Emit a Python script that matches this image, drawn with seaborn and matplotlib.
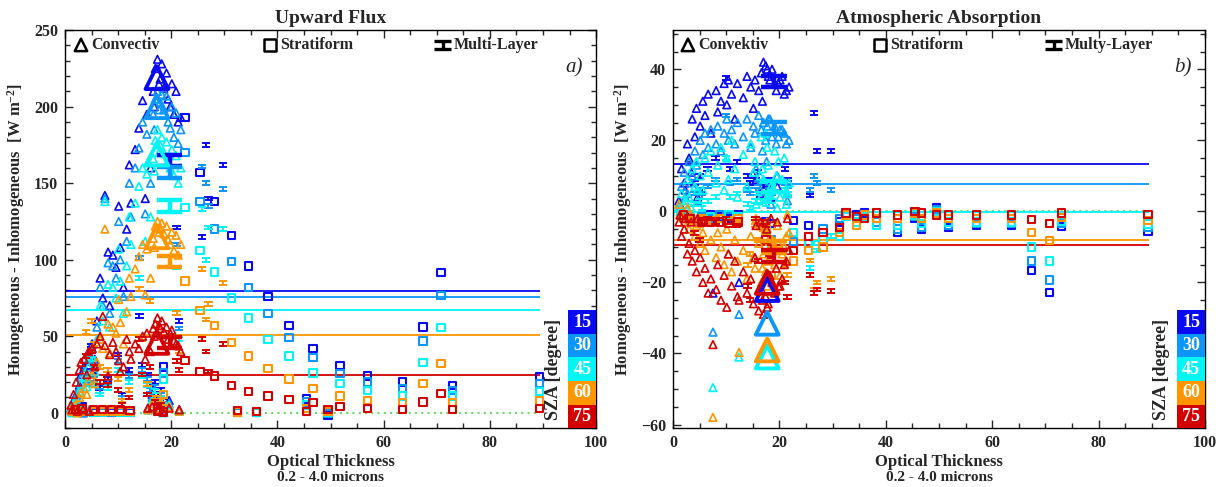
import matplotlib
matplotlib.use("Agg")
import matplotlib.pyplot as plt
from matplotlib.path import Path
from matplotlib.markers import MarkerStyle
from matplotlib.patches import Rectangle
from matplotlib.ticker import MultipleLocator
import seaborn as sns

#Solar zenith angles and their colours
sza_labels = ["15", "30", "45", "60", "75"]
sza_colors = ["#0a0af0", "#0a96fa", "#00f5f5", "#ff9600", "#d20000"]

#Convective clouds (triangles)
conv_tau = [1.1, 1.6, 2.1, 2.7, 3.0, 3.6, 4.1, 4.4, 5.1, 5.6,
            6.0, 6.6, 7.1, 7.5, 8.1, 8.4, 9.0, 9.6, 10.1, 10.4,
            11.0, 11.6, 12.1, 12.4, 13.2, 13.9, 14.6, 15.1, 15.4, 16.1,
            16.6, 17.0, 17.4, 17.9, 18.6, 19.1, 19.4, 20.1, 20.9, 21.8,
            16.8, 17.7, 18.2, 19.8, 20.5, 21.3,
            1.3, 2.3, 3.4, 4.6, 15.6, 16.4, 17.6, 18.4, 19.6, 21.5]
conv_flux_15 = [3, 8, 12, 18, 25, 30, 22, 38, 45, 35,
                60, 88, 75, 142, 105, 70, 103, 95, 135, 108,
                82, 120, 162, 137, 172, 186, 204, 140, 195, 160,
                210, 225, 231, 218, 212, 222, 205, 215, 210, 193,
                200, 215, 228, 200, 195, 190,
                1, 2, 0, 1, 3, 12, 2, 1, 8, 2]
conv_flux_30 = [3, 7, 11, 16, 23, 27, 20, 35, 42, 32,
                56, 82, 70, 140, 98, 65, 96, 88, 125, 100,
                76, 112, 150, 128, 160, 173, 190, 130, 182, 150,
                195, 205, 210, 203, 198, 207, 190, 200, 196, 185,
                185, 198, 208, 186, 180, 176,
                1, 1, 0, 2, 2, 10, 1, 2, 6, 1]
conv_flux_45 = [2, 6, 9, 14, 19, 23, 17, 30, 36, 27,
                48, 70, 60, 138, 84, 56, 82, 75, 107, 86,
                65, 96, 128, 110, 137, 148, 160, 112, 156, 128,
                166, 178, 185, 175, 170, 177, 164, 172, 168, 160,
                158, 170, 180, 160, 155, 150,
                0, 1, 1, 1, 2, 8, 1, 0, 5, 1]
conv_flux_60 = [2, 4, 6, 10, 13, 16, 12, 21, 25, 19,
                33, 48, 42, 120, 58, 39, 56, 52, 74, 59,
                45, 66, 88, 76, 94, 102, 110, 77, 107, 88,
                114, 122, 125, 120, 117, 122, 113, 118, 116, 110,
                108, 118, 124, 110, 106, 103,
                1, 0, 1, 1, 2, 6, 1, 1, 4, 1]
conv_flux_75 = [5, 12, 20, 28, 33, 35, 25, 40, 42, 30,
                45, 50, 63, 44, 24, 38, 46, 40, 34, 27,
                30, 48, 40, 35, 45, 42, 50, 35, 52, 40,
                55, 58, 62, 55, 53, 56, 48, 54, 45, 40,
                50, 57, 60, 52, 47, 44,
                2, 1, 2, 1, 3, 4, 2, 1, 3, 2]
conv_abs_15 = [3, 12, 8, 19, 15, 26, 21, 29, 24, 31,
               27, 33, 22, -23, 34, 28, 31, 36, 30, 37,
               33, 26, 36, -20, 32, 38, 35, 29, 37, 34,
               39, 42, 41, 38, 40, 36, 34, 37, 33, 35,
               31, 40, 37, 36, 38, 34,
               2, 6, 11, 4, 9, 5, 8, 4, 7, 5]
conv_abs_30 = [2, 7, 11, 5, 14, 10, 17, 13, 20, 16,
               22, 18, 23, -34, 19, 24, 17, 22, 26, 20,
               23, 19, 25, -29, 21, 26, 18, 24, 22, 27,
               23, 25, 20, 26, 21, 24, 19, 23, 22, 20,
               17, 24, 26, 21, 23, 19,
               1, 4, 8, 3, 12, 6, 14, 2, 10, 3]
conv_abs_45 = [1, 5, 2, 9, 4, 12, 7, 14, 10, 6,
               15, 11, 17, -49.6, 8, 13, 18, 6, 15, 9,
               20, 12, 4, -41, 16, 7, 19, 11, 14, 3,
               21, 9, 22, 13, 6, 17, 10, 4, 15, 8,
               12, 18, 5, 14, 9, 2,
               0, 3, 1, 6, 2, 10, 4, 7, 1, 5]
conv_abs_60 = [2, -1, -3, 1, -5, -2, -7, -4, -9, -6,
               -11, -3, -8, -58, -13, -6, -10, -15, -5, -12,
               -17, -8, -14, -39.7, -11, -19, -7, -13, -16, -9,
               -20, -12, -17, -14, -8, -15, -11, -18, -10, -6,
               -16, -21, -13, -9, -12, -7,
               -1, -2, -1, -3, -2, -4, -3, -2, -4, -1]
conv_abs_75 = [-3, -7, -5, -12, -9, -14, -11, -17, -13, -20,
               -16, -23, -19, -37.5, -22, -15, -25, -18, -27, -12,
               -21, -14, -24, -25, -17, -23, -19, -26, -13, -28,
               -22, -29, -24, -26, -20, -23, -16, -21, -15, -11,
               -25, -27, -18, -21, -19, -14,
               -1, -2, -3, -2, -4, -3, -5, -2, -3, -2]

#Stratiform clouds (squares)
strat_tau = [2.0, 3.2, 5.3, 7.0, 8.7, 10.5, 12.2, 17.5, 18.5, 22.6,
             25.4, 28.2, 31.3, 32.5, 34.5, 36.0, 38.2, 42.2, 45.5, 46.7,
             49.5, 51.8, 57.0, 63.6, 67.4, 70.8, 73.0, 89.3]
strat_flux_15 = [1, 4, 0, 1, 0, 1, 0, 8, 30, 193, 157, 138, 116, 0.5, 96, 0, 76, 57, 9, 42, -1.5, 31, 24, 20, 56, 91.5, 18, 23.5]
strat_flux_30 = [0.5, 3, 1, 0, 0.5, 0, 1, 6, 26, 170, 138, 120, 99, 0, 82, 0.5, 65, 49, 7, 36, -0.5, 25.5, 20, 16, 47, 76.5, 14.5, 19]
strat_flux_45 = [0, 2, 0.5, 0.5, 1, 0.5, 0.5, 5, 22, 134, 106, 92, 75, 1, 62, 0, 48, 37, 5, 26, 0.5, 19, 14.5, 11, 33, 55.6, 11, 13.7]
strat_flux_60 = [1, 1, 1, 1, 1, 1, 1, 3, 12, 86, 67, 57, 46, 0.5, 37, 1, 29, 22, 3, 16, 1, 11, 8, 6.5, 19, 32, 6.5, 7.8]
strat_flux_75 = [2, 3, 2, 2, 2, 2, 1.5, 1, 0.5, 34, 27, 24, 18, 1.5, 14, 1, 11, 8.5, 1, 6.5, 2, 4, 2.6, 2, 7, 12.4, 2, 2.6]
strat_abs_15 = [-1, -1.5, -2, -1, -1.5, -2, -1, -3, -3.5, -2.5, -4, -6, -3, -1, -1, -0.5, -2, -6, -2, -5, 1, -4.5, -4, -4, -16.6, -22.8, -4.3, -5.6]
strat_abs_30 = [-1.5, -2, -1.5, -2, -1, -1.5, -2, -4, -8, -8.5, -7, -5, -2, -0.5, -2, -1, -3, -5, -1.5, -4.5, 0.5, -4, -3.5, -3.5, -14, -19.3, -3.5, -4.5]
strat_abs_45 = [-1, -1, -2.5, -1.5, -2, -1, -1.5, -5, -10, -6, -9, -8, -7, -1.5, -3, -1.5, -4, -4, -1, -3.5, 0, -3, -3, -3, -10, -14, -2.8, -3.6]
strat_abs_60 = [-2, -2.5, -2, -2.5, -2, -2.5, -2, -6, -18, -14, -11, -10, -6, -1, -4, -1, -2, -2, -0.5, -2, -0.5, -2, -2, -2, -6, -8.2, -1.8, -2.5]
strat_abs_75 = [-1, -2, -3, -3, -3, -3.5, -3, -8, -12, -11, -7, -6, -4.5, -0.5, -1.5, -2, -0.5, -1, 0, -0.5, -1, -1, -1, -1, -2.3, -3.4, -0.5, -0.9]

#Multi-layer clouds (I-beam markers)
multi_tau = [4.0, 5.0, 5.5, 6.5, 8.0, 10.0, 10.7, 12.0, 14.0, 14.5, 15.5,
             16.0, 17.0, 17.5, 18.0, 18.5, 21.0, 21.5, 25.8, 26.5, 27.0, 29.7]
multi_flux_15 = [30, 44, 25, 16, 22, 38, 12, 28, 63, 31, 25, 18, 20, 12, 15, 8, 121, 60, 115, 175, 140, 162]
multi_flux_30 = [26, 40, 22, 14, 20, 34, 10, 24, 101, 28, 22, 15, 17, 10, 12, 6, 110, 55, 161, 150, 135, 146]
multi_flux_45 = [22, 35, 18, 12, 16, 28, 8, 20, 88, 24, 18, 12, 14, 8, 10, 5, 95, 48, 133, 100, 121, 120]
multi_flux_60 = [53, 60, 45, 30, 28, 22, 8, 15, 81, 48, 19, 73, 10, 6, 8, 4, 65, 40, 94, 61, 71, 85]
multi_flux_75 = [37, 40, 30, 20, 18, 15, 5, 10, 48, 25, 12, 30, 7, 4, 5, 2, 34, 28, 48, 40, 27, 45]
multi_abs_15 = [8, 10, 6, 12, 15, 37.5, 12, 14, 10, 8, 9, 11, 8, 6, 9, 7, 12, 9, 4.5, 27.6, 17, 17]
multi_abs_30 = [5, 6, 4, 7, 9, 27, 8, 9, 6, 5, 6, 8, 5, 4, 7, 5, 8, 7, 6, 10, 8, 6]
multi_abs_45 = [2, 3, 1, 3, 4, 15, 4, 5, 2, 1, 3, 5, 3, 2, 4, 3, 6, 5, -16, -9, -11, -7]
multi_abs_60 = [-3, -4, -2, -3, -2, -3, -2, -3, -15, -12, -4, -8, -5, -6, -10, -8, -15, -18, -13.8, -22, -20, -19]
multi_abs_75 = [-6, -8, -3, -2, -3, -2, -3, -4, -21, -25, -2, -14, -3, -4, -12, -10, -20, -24, -18, -23, -22, -22.5]

#Mean values (big markers) and average lines
conv_mean_tau = [17.3, 17.7]
conv_mean_flux = [219, 200, 169, 115, 46]
conv_mean_abs = [-22, -31.5, -41, -39, -20]
multi_mean_tau = [19.7, 19.0]
multi_mean_flux = [165, 157, 135, 99, 46]
multi_mean_abs = [36.5, 23.5, 7, -10, -12.5]
line_flux = [79.3, 75.6, 67.1, 50.5, 24.8]
line_abs = [13.2, 7.6, -0.3, -8.0, -9.4]
line_end = 89.5

sns.set_style("ticks")
plt.rcParams["font.family"] = ["Liberation Serif", "DejaVu Serif"]
plt.rcParams["font.weight"] = "bold"
plt.rcParams["axes.edgecolor"] = "black"
plt.rcParams["axes.linewidth"] = 1.0
plt.rcParams["mathtext.fontset"] = "custom"
plt.rcParams["mathtext.rm"] = "Liberation Serif:bold"
plt.rcParams["mathtext.bf"] = "Liberation Serif:bold"
plt.rcParams["mathtext.it"] = "Liberation Serif:italic"

#markers
ibeam = Path([(-1, 0.45), (1, 0.45), (-1, -0.45), (1, -0.45), (0, -0.45), (0, 0.45)],
             [Path.MOVETO, Path.LINETO, Path.MOVETO, Path.LINETO, Path.MOVETO, Path.LINETO])
m_tri = MarkerStyle("^", fillstyle="none")
m_sq = MarkerStyle("s", fillstyle="none")
m_ib = MarkerStyle(ibeam, fillstyle="none")

fig = plt.figure(figsize=(12.16, 4.87), dpi=100)
ax1 = fig.add_axes([0.0535, 0.121, 0.4367, 0.817])
ax2 = fig.add_axes([0.5535, 0.121, 0.4375, 0.817])

panels = [
    (ax1, [strat_flux_15, strat_flux_30, strat_flux_45, strat_flux_60, strat_flux_75],
     [multi_flux_15, multi_flux_30, multi_flux_45, multi_flux_60, multi_flux_75],
     [conv_flux_15, conv_flux_30, conv_flux_45, conv_flux_60, conv_flux_75],
     conv_mean_flux, multi_mean_flux, line_flux, 0),
    (ax2, [strat_abs_15, strat_abs_30, strat_abs_45, strat_abs_60, strat_abs_75],
     [multi_abs_15, multi_abs_30, multi_abs_45, multi_abs_60, multi_abs_75],
     [conv_abs_15, conv_abs_30, conv_abs_45, conv_abs_60, conv_abs_75],
     conv_mean_abs, multi_mean_abs, line_abs, 1),
]

for ax, strat, multi, conv, cmean, mmean, lines, k in panels:
    ax.hlines(0, 0, line_end, colors="#66dd66", linestyles=(0, (1, 2)), linewidth=1.5, zorder=2)
    for i, col in enumerate(sza_colors):
        ax.hlines(lines[i], 0, line_end, colors=col, linewidth=1.3, zorder=2)
    for i, col in enumerate(sza_colors):
        sns.scatterplot(x=strat_tau, y=strat[i], ax=ax, marker=m_sq, s=28, color=col,
                        linewidth=1.5, legend=False, zorder=3)
        sns.scatterplot(x=multi_tau, y=multi[i], ax=ax, marker=m_ib, s=36, color=col,
                        linewidth=1.4, legend=False, zorder=3)
        sns.scatterplot(x=conv_tau, y=conv[i], ax=ax, marker=m_tri, s=30, color=col,
                        linewidth=1.2, legend=False, zorder=3)
    for i, col in enumerate(sza_colors):
        sns.scatterplot(x=[conv_mean_tau[k]], y=[cmean[i]], ax=ax, marker=m_tri, s=270,
                        color=col, linewidth=2.8, legend=False, zorder=4)
        sns.scatterplot(x=[multi_mean_tau[k]], y=[mmean[i]], ax=ax, marker=m_ib, s=340,
                        color=col, linewidth=3.2, legend=False, zorder=4)

    #SZA colour boxes
    bh = 0.296 / 5
    for i, (lab, col) in enumerate(zip(sza_labels, sza_colors)):
        y0 = 0.296 - (i + 1) * bh
        ax.add_patch(Rectangle((0.948, y0), 0.052, bh, transform=ax.transAxes,
                               facecolor=col, edgecolor="none", zorder=5))
        ax.text(0.974, y0 + bh / 2, lab, transform=ax.transAxes, color="white",
                fontsize=13, fontweight="bold", ha="center", va="center", zorder=6)
    ax.text(0.919, 0.148, "SZA [degree]", transform=ax.transAxes, rotation=90,
            fontsize=13, fontweight="bold", ha="center", va="center")

    ax.set_xlim(0, 100)
    ax.xaxis.set_major_locator(MultipleLocator(20))
    ax.xaxis.set_minor_locator(MultipleLocator(5))
    ax.tick_params(which="both", direction="in", top=True, right=True, width=1,
                   labelsize=11.5, pad=5)
    ax.tick_params(which="major", length=6)
    ax.tick_params(which="minor", length=3.5)
    ax.set_xlabel("Optical Thickness", fontsize=12, fontweight="bold", labelpad=2)
    ax.text(0.5, -0.123, "0.2 - 4.0 microns", transform=ax.transAxes, fontsize=11,
            fontweight="bold", ha="center", va="center")
    ax.set_ylabel(r"Homogeneous - Inhomogeneous  [W m$^{\mathbf{-2}}$]", fontsize=12,
                  fontweight="bold", labelpad=5)

ax1.set_ylim(-10, 250)
ax1.yaxis.set_major_locator(MultipleLocator(50))
ax1.yaxis.set_minor_locator(MultipleLocator(10))
ax2.set_ylim(-61, 51)
ax2.yaxis.set_major_locator(MultipleLocator(20))
ax2.yaxis.set_minor_locator(MultipleLocator(5))
for ax in (ax1, ax2):
    for lab in ax.get_xticklabels() + ax.get_yticklabels():
        lab.set_fontweight("bold")

ax1.set_title("Upward Flux", fontsize=14, fontweight="bold", pad=5)
ax2.set_title("Atmospheric Absorption", fontsize=14, fontweight="bold", pad=5)
ax1.text(0.975, 0.905, "a)", transform=ax1.transAxes, fontsize=15, style="italic",
         fontweight="normal", ha="right", va="center")
ax2.text(0.975, 0.905, "b)", transform=ax2.transAxes, fontsize=15, style="italic",
         fontweight="normal", ha="right", va="center")

#legend rows at the top of each panel
legend_rows = [
    (ax1, ["Convectiv", "Stratiform", "Multi-Layer"], [0.030, 0.386, 0.711]),
    (ax2, ["Convektiv", "Stratiform", "Multy-Layer"], [0.028, 0.389, 0.716]),
]
for ax, names, xs in legend_rows:
    for name, xm, mk, sz, lw in zip(names, xs, [m_tri, m_sq, m_ib], [80, 70, 150], [1.8, 1.8, 2.4]):
        ax.scatter([xm], [0.963], transform=ax.transAxes, marker=mk, s=sz, color="black",
                   linewidth=lw, zorder=6, clip_on=False)
        ax.text(xm + 0.02, 0.963, name, transform=ax.transAxes, fontsize=11.5,
                fontweight="bold", ha="left", va="center")

fig.savefig("out.png", dpi=100)
